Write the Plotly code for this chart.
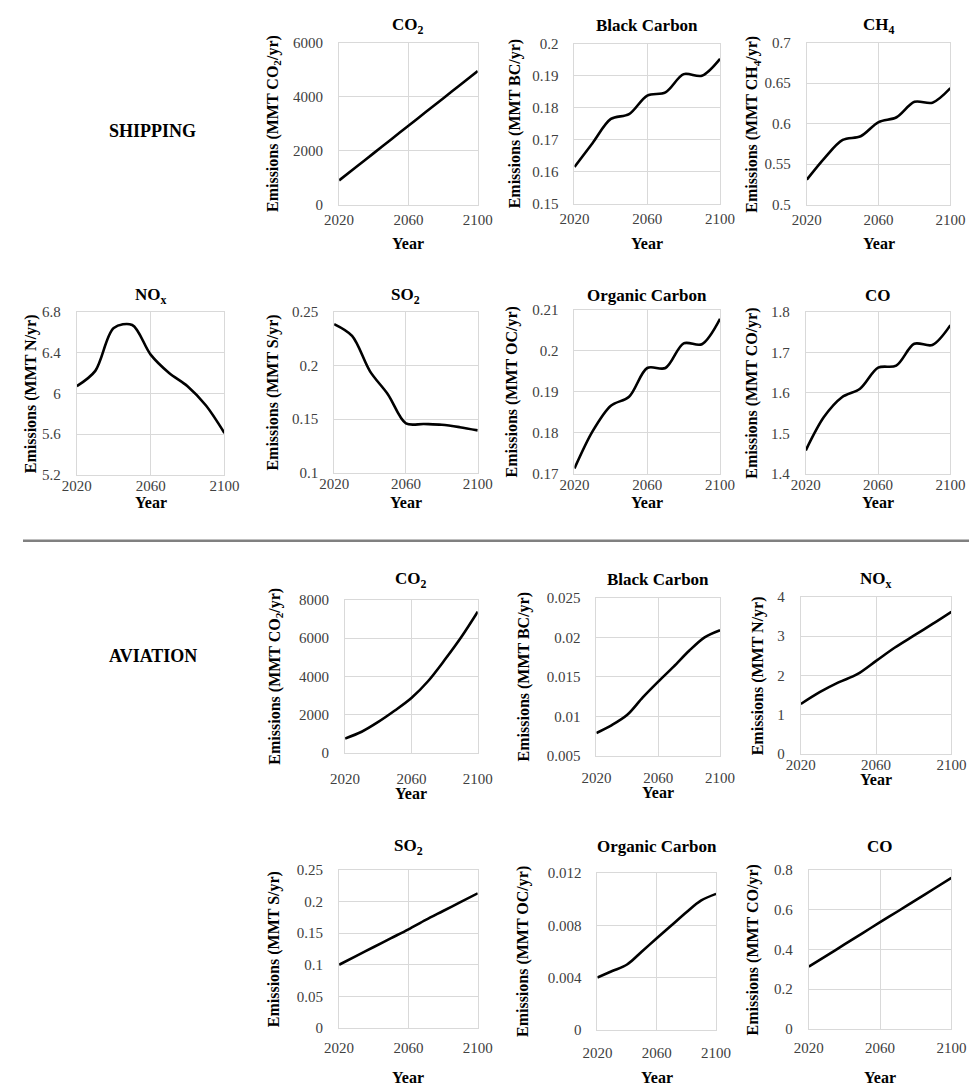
import plotly.graph_objects as go

# ---------------- data ----------------
years = [2020, 2030, 2040, 2050, 2060, 2070, 2080, 2090, 2100]

ship_co2 = [900, 1406, 1912, 2419, 2925, 3431, 3937, 4444, 4950]
ship_bc = [0.1615, 0.169, 0.1765, 0.178, 0.1838, 0.1848, 0.1905, 0.190, 0.1953]
ship_ch4 = [0.531, 0.558, 0.580, 0.5845, 0.602, 0.608, 0.627, 0.626, 0.644]
ship_nox = [6.07, 6.22, 6.64, 6.67, 6.38, 6.20, 6.07, 5.88, 5.61]
ship_so2 = [0.2385, 0.2275, 0.1945, 0.173, 0.146, 0.1455, 0.1448, 0.1425, 0.1395]
ship_oc = [0.1713, 0.1804, 0.1866, 0.1888, 0.1958, 0.1958, 0.2018, 0.2016, 0.2078]
ship_co = [1.458, 1.54, 1.589, 1.61, 1.662, 1.667, 1.721, 1.718, 1.767]

avi_co2 = [750, 1106, 1617, 2213, 2870, 3745, 4851, 6043, 7380]
avi_bc = [0.0079, 0.0089, 0.0102, 0.0124, 0.0144, 0.0163, 0.0183, 0.0200, 0.0209]
avi_nox = [1.27, 1.57, 1.82, 2.03, 2.37, 2.71, 3.01, 3.31, 3.62]
avi_so2 = [0.100, 0.114, 0.128, 0.142, 0.156, 0.171, 0.185, 0.199, 0.213]
avi_oc = [0.0040, 0.0045, 0.0050, 0.0060, 0.0070, 0.0080, 0.0090, 0.0099, 0.0104]
avi_co = [0.313, 0.369, 0.425, 0.481, 0.537, 0.592, 0.648, 0.704, 0.760]

x_tick_vals = [2020, 2060, 2100]
x_tick_text = ["2020", "2060", "2100"]

yt_ship_co2 = ([0, 2000, 4000, 6000], ["0", "2000", "4000", "6000"])
yt_ship_bc = ([0.15, 0.16, 0.17, 0.18, 0.19, 0.2], ["0.15", "0.16", "0.17", "0.18", "0.19", "0.2"])
yt_ship_ch4 = ([0.5, 0.55, 0.6, 0.65, 0.7], ["0.5", "0.55", "0.6", "0.65", "0.7"])
yt_ship_nox = ([5.2, 5.6, 6.0, 6.4, 6.8], ["5.2", "5.6", "6", "6.4", "6.8"])
yt_ship_so2 = ([0.1, 0.15, 0.2, 0.25], ["0.1", "0.15", "0.2", "0.25"])
yt_ship_oc = ([0.17, 0.18, 0.19, 0.2, 0.21], ["0.17", "0.18", "0.19", "0.2", "0.21"])
yt_ship_co = ([1.4, 1.5, 1.6, 1.7, 1.8], ["1.4", "1.5", "1.6", "1.7", "1.8"])
yt_avi_co2 = ([0, 2000, 4000, 6000, 8000], ["0", "2000", "4000", "6000", "8000"])
yt_avi_bc = ([0.005, 0.01, 0.015, 0.02, 0.025], ["0.005", "0.01", "0.015", "0.02", "0.025"])
yt_avi_nox = ([0, 1, 2, 3, 4], ["0", "1", "2", "3", "4"])
yt_avi_so2 = ([0, 0.05, 0.1, 0.15, 0.2, 0.25], ["0", "0.05", "0.1", "0.15", "0.2", "0.25"])
yt_avi_oc = ([0, 0.004, 0.008, 0.012], ["0", "0.004", "0.008", "0.012"])
yt_avi_co = ([0, 0.2, 0.4, 0.6, 0.8], ["0", "0.2", "0.4", "0.6", "0.8"])

# ---------------- layout helpers ----------------
W, H = 977, 1084
# measured mapping from figure css px to photographed px
AX, SX = 20.0, 0.972
AY, SY = 15.3, 0.985
FONT = "Liberation Serif"
GRID = "#d9d9d9"
TICKC = "#404040"


def px(x):
    return ((x - AX) / SX) / W


def py(y):
    return 1 - ((y - AY) / SY) / H


# box = (left, right, top, bottom) target picture pixels
panels = [
    dict(t="CO<sub>2</sub>", yl="Emissions (MMT CO<sub>2</sub>/yr)", v=ship_co2, yt=yt_ship_co2,
         box=(337, 476, 42, 204), ytx=271, ty=25, so=1, yr=243),
    dict(t="Black Carbon", yl="Emissions (MMT BC/yr)", v=ship_bc, yt=yt_ship_bc,
         box=(573, 719, 43, 203), ytx=513, ty=25, so=1, yr=243),
    dict(t="CH<sub>4</sub>", yl="Emissions (MMT CH<sub>4</sub>/yr)", v=ship_ch4, yt=yt_ship_ch4,
         box=(806, 950, 42, 204), ytx=752, ty=25, so=1, yr=243),
    dict(t="NO<sub>x</sub>", yl="Emissions (MMT N/yr)", v=ship_nox, yt=yt_ship_nox,
         box=(74, 222, 311, 474), ytx=28, ty=295, so=-3, yr=502),
    dict(t="SO<sub>2</sub>", yl="Emissions (MMT S/yr)", v=ship_so2, yt=yt_ship_so2,
         box=(332, 476, 311, 472), ytx=271, ty=295, so=-3, yr=502),
    dict(t="Organic Carbon", yl="Emissions (MMT OC/yr)", v=ship_oc, yt=yt_ship_oc,
         box=(573, 719, 309, 473), ytx=510, ty=295, so=-3, yr=502),
    dict(t="CO", yl="Emissions (MMT CO/yr)", v=ship_co, yt=yt_ship_co,
         box=(805, 950, 311, 473), ytx=751, ty=295, so=-3, yr=502),
    dict(t="CO<sub>2</sub>", yl="Emissions (MMT CO<sub>2</sub>/yr)", v=avi_co2, yt=yt_avi_co2,
         box=(343, 476, 599, 752), ytx=273, ty=579, so=12, yr=793),
    dict(t="Black Carbon", yl="Emissions (MMT BC/yr)", v=avi_bc, yt=yt_avi_bc,
         box=(595, 719, 597, 755), ytx=522, ty=579, so=8, yr=792),
    dict(t="NO<sub>x</sub>", yl="Emissions (MMT N/yr)", v=avi_nox, yt=yt_avi_nox,
         box=(800, 951, 596, 753), ytx=757, ty=579, so=-3, yr=779),
    dict(t="SO<sub>2</sub>", yl="Emissions (MMT S/yr)", v=avi_so2, yt=yt_avi_so2,
         box=(337, 476, 869, 1027), ytx=272, ty=846, so=6, yr=1077),
    dict(t="Organic Carbon", yl="Emissions (MMT OC/yr)", v=avi_oc, yt=yt_avi_oc,
         box=(596, 715, 872, 1029), ytx=522, ty=846, so=9, yr=1077),
    dict(t="CO", yl="Emissions (MMT CO/yr)", v=avi_co, yt=yt_avi_co,
         box=(808, 951, 869, 1028), ytx=752, ty=846, so=5, yr=1077),
]

fig = go.Figure()
layout = dict(
    width=W, height=H, margin=dict(l=0, r=0, t=0, b=0),
    paper_bgcolor="white", plot_bgcolor="white", showlegend=False,
    font=dict(family=FONT, color="black"),
)
annotations = []

for i, p in enumerate(panels, start=1):
    x0, x1, y0, y1 = p["box"]
    fig.add_trace(go.Scatter(
        x=years, y=p["v"], mode="lines",
        line=dict(color="black", width=2.6, shape="spline", smoothing=0.9),
        xaxis=f"x{i}", yaxis=f"y{i}", hoverinfo="skip",
    ))
    tv, tt = p["yt"]
    layout[f"xaxis{i}"] = dict(
        domain=[px(x0), px(x1)], anchor=f"y{i}", range=[2020, 2100],
        tickvals=x_tick_vals, ticktext=x_tick_text, showgrid=True, gridcolor=GRID,
        gridwidth=1, showline=True, linecolor=GRID, linewidth=1, mirror=True,
        zeroline=False, ticks="", ticklabelstandoff=p["so"],
        tickfont=dict(family=FONT, size=15, color=TICKC),
    )
    layout[f"yaxis{i}"] = dict(
        domain=[py(y1), py(y0)], anchor=f"x{i}", range=[tv[0], tv[-1]],
        tickvals=tv, ticktext=tt, showgrid=True, gridcolor=GRID, gridwidth=1,
        showline=True, linecolor=GRID, linewidth=1, mirror=True, zeroline=False,
        ticks="", ticklabelstandoff=12,
        tickfont=dict(family=FONT, size=15, color=TICKC),
    )
    cx = (x0 + x1) / 2
    annotations.append(dict(
        text=f"<b>{p['t']}</b>", x=px(cx), y=py(p["ty"]), xref="paper", yref="paper",
        xanchor="center", yanchor="middle", showarrow=False,
        font=dict(family=FONT, size=17, color="black"),
    ))
    annotations.append(dict(
        text=f"<b>{p['yl']}</b>", x=px(p["ytx"]), y=py((y0 + y1) / 2), xref="paper",
        yref="paper", xanchor="center", yanchor="middle", textangle=-90,
        showarrow=False, font=dict(family=FONT, size=16, color="black"),
    ))
    annotations.append(dict(
        text="<b>Year</b>", x=px(cx), y=py(p["yr"]), xref="paper", yref="paper",
        xanchor="center", yanchor="middle", showarrow=False,
        font=dict(family=FONT, size=16, color="black"),
    ))

for label, ycen in [("SHIPPING", 130), ("AVIATION", 655)]:
    annotations.append(dict(
        text=f"<b>{label}</b>", x=px(150), y=py(ycen), xref="paper", yref="paper",
        xanchor="center", yanchor="middle", showarrow=False,
        font=dict(family=FONT, size=18, color="black"),
    ))

layout["annotations"] = annotations
layout["shapes"] = [dict(
    type="line", xref="paper", yref="paper", x0=0, x1=1, y0=py(540), y1=py(540),
    line=dict(color="#808080", width=2.5),
)]
fig.update_layout(**layout)
fig.write_html("out.html")
